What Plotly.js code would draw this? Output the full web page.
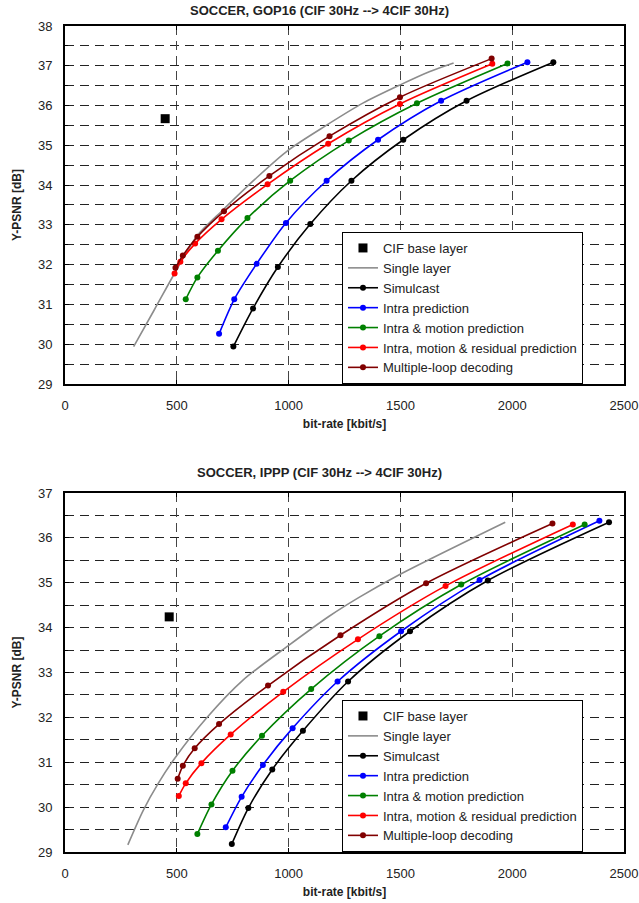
<!DOCTYPE html>
<html>
<head>
<meta charset="utf-8">
<script src="https://cdn.plot.ly/plotly-3.0.1.min.js"></script>
<style>html,body{margin:0;padding:0;background:#fff;}#chart{width:639px;height:903px;}</style>
</head>
<body>
<div id="chart"></div>
<script>
// ---------- Top chart: SOCCER, GOP16 ----------
const gopCifX = [448];
const gopCifY = [35.67];
const gopSingleX = [307, 399, 491, 590, 707, 850, 999, 1168, 1332, 1499, 1629, 1738];
const gopSingleY = [29.94, 30.86, 31.79, 32.72, 33.38, 34.15, 34.88, 35.50, 36.06, 36.52, 36.85, 37.07];
const gopSimulX = [753, 841, 952, 1097, 1281, 1513, 1796, 2184];
const gopSimulY = [29.94, 30.90, 31.94, 33.02, 34.11, 35.14, 36.12, 37.09];
const gopIntraX = [689, 757, 857, 988, 1170, 1400, 1682, 2068];
const gopIntraY = [30.26, 31.13, 32.02, 33.05, 34.11, 35.14, 36.12, 37.09];
const gopMotionX = [540, 592, 684, 816, 1007, 1269, 1574, 1979];
const gopMotionY = [31.13, 31.68, 32.35, 33.17, 34.11, 35.12, 36.06, 37.06];
const gopResidX = [490, 516, 582, 700, 906, 1177, 1498, 1911];
const gopResidY = [31.78, 32.07, 32.53, 33.14, 34.02, 35.04, 36.04, 37.05];
const gopMultiX = [494, 527, 592, 711, 914, 1183, 1498, 1908];
const gopMultiY = [31.92, 32.23, 32.70, 33.34, 34.23, 35.23, 36.21, 37.18];

// ---------- Bottom chart: SOCCER, IPPP ----------
const ipppCifX = [466];
const ipppCifY = [34.24];
const ipppSingleX = [281, 350, 417, 491, 632, 796, 999, 1183, 1317, 1499, 1969];
const ipppSingleY = [29.16, 29.93, 30.53, 31.09, 31.98, 32.83, 33.60, 34.26, 34.68, 35.19, 36.35];
const ipppSimulX = [746, 820, 927, 1064, 1266, 1543, 1891, 2433];
const ipppSimulY = [29.18, 29.98, 30.84, 31.70, 32.80, 33.92, 35.05, 36.35];
const ipppIntraX = [719, 790, 885, 1018, 1219, 1503, 1854, 2390];
const ipppIntraY = [29.55, 30.23, 30.94, 31.76, 32.80, 33.92, 35.06, 36.38];
const ipppMotionX = [592, 655, 749, 881, 1101, 1406, 1772, 2324];
const ipppMotionY = [29.40, 30.06, 30.81, 31.59, 32.63, 33.81, 34.96, 36.30];
const ipppResidX = [509, 540, 610, 741, 976, 1310, 1702, 2271];
const ipppResidY = [30.25, 30.53, 30.98, 31.62, 32.57, 33.74, 34.93, 36.30];
const ipppMultiX = [504, 527, 580, 689, 908, 1232, 1615, 2180];
const ipppMultiY = [30.63, 30.92, 31.31, 31.85, 32.71, 33.83, 34.99, 36.32];

const seriesNames = ["CIF base layer", "Single layer", "Simulcast", "Intra prediction",
  "Intra & motion prediction", "Intra, motion & residual prediction", "Multiple-loop decoding"];
const chartTitles = ["SOCCER, GOP16 (CIF 30Hz --> 4CIF 30Hz)", "SOCCER, IPPP (CIF 30Hz --> 4CIF 30Hz)"];
const xTitle = "bit-rate [kbit/s]";
const yTitle = "Y-PSNR [dB]";

const colors = ["#000000", "#8c8c8c", "#000000", "#0000ff", "#008000", "#ff0000", "#800000"];
const FONT = "Liberation Sans, Arial, sans-serif";
const GRIDDASH = "9px,6px";

function buildTraces(sets, xa, ya, leg) {
  const traces = [];
  sets.forEach((s, i) => {
    const t = {x: s[0], y: s[1], name: seriesNames[i], xaxis: xa, yaxis: ya, legend: leg};
    if (i === 0) {
      t.mode = "markers";
      t.marker = {symbol: "square", size: 9, color: colors[i]};
    } else if (i === 1) {
      t.mode = "lines";
      t.line = {color: colors[i], width: 1.6, shape: "spline", smoothing: 0.8};
    } else {
      t.mode = "lines+markers";
      t.line = {color: colors[i], width: 1.6, shape: "spline", smoothing: 0.8};
      t.marker = {symbol: "circle", size: 6, color: colors[i]};
    }
    traces.push(t);
  });
  return traces;
}

const traces = buildTraces([
  [gopCifX, gopCifY], [gopSingleX, gopSingleY], [gopSimulX, gopSimulY], [gopIntraX, gopIntraY],
  [gopMotionX, gopMotionY], [gopResidX, gopResidY], [gopMultiX, gopMultiY]
], "x", "y", "legend").concat(buildTraces([
  [ipppCifX, ipppCifY], [ipppSingleX, ipppSingleY], [ipppSimulX, ipppSimulY], [ipppIntraX, ipppIntraY],
  [ipppMotionX, ipppMotionY], [ipppResidX, ipppResidY], [ipppMultiX, ipppMultiY]
], "x2", "y2", "legend2"));

function xAxis(anchor) {
  return {
    anchor: anchor, range: [0, 2500], dtick: 500, tick0: 0,
    showline: true, linecolor: "#000", linewidth: 2, mirror: "ticks",
    ticks: "inside", ticklen: 4, tickcolor: "#000",
    showgrid: true, gridcolor: "#444", griddash: GRIDDASH, gridwidth: 1,
    zeroline: false, ticklabelstandoff: 8,
    tickfont: {family: FONT, size: 13, color: "#222"},
    title: {text: "<b>" + xTitle + "</b>", font: {family: FONT, size: 12, color: "#222"}, standoff: 8},
    automargin: false
  };
}
function yAxis(anchor, range, domain) {
  return {
    anchor: anchor, range: range, dtick: 1, domain: domain,
    showline: true, linecolor: "#000", linewidth: 2, mirror: "ticks",
    ticks: "inside", ticklen: 4, tickcolor: "#000",
    showgrid: true, gridcolor: "#222", griddash: GRIDDASH, gridwidth: 1,
    minor: {dtick: 0.5, showgrid: true, gridcolor: "#222", griddash: GRIDDASH, gridwidth: 1, ticks: "inside", ticklen: 3},
    zeroline: false, ticklabelstandoff: 8,
    tickfont: {family: FONT, size: 13, color: "#222"},
    title: {text: "<b>" + yTitle + "</b>", font: {family: FONT, size: 12, color: "#222"}, standoff: 14},
    automargin: false
  };
}

const legendStyle = {
  bgcolor: "#fff", bordercolor: "#000", borderwidth: 1,
  font: {family: FONT, size: 13, color: "#222"},
  xanchor: "left", yanchor: "top", tracegroupgap: 0, itemwidth: 30
};

const layout = {
  width: 639, height: 903,
  margin: {l: 65, r: 15, t: 26, b: 51},
  paper_bgcolor: "#fff", plot_bgcolor: "#fff",
  showlegend: true,
  xaxis: Object.assign(xAxis("y"), {domain: [0, 1]}),
  yaxis: yAxis("x", [29, 38], [0.5666, 1]),
  xaxis2: Object.assign(xAxis("y2"), {domain: [0, 1]}),
  yaxis2: yAxis("x2", [29, 37], [0, 0.4346]),
  legend: Object.assign({x: 0.4955, y: 0.7506}, legendStyle),
  legend2: Object.assign({x: 0.4955, y: 0.184}, legendStyle),
  annotations: [
    {text: "<b>" + chartTitles[0] + "</b>", xref: "paper", yref: "paper", x: 0.456, y: 1.0, yshift: 16,
     showarrow: false, xanchor: "center", yanchor: "middle", font: {family: FONT, size: 13, color: "#222"}},
    {text: "<b>" + chartTitles[1] + "</b>", xref: "paper", yref: "paper", x: 0.456, y: 0.4346, yshift: 21,
     showarrow: false, xanchor: "center", yanchor: "middle", font: {family: FONT, size: 13, color: "#222"}}
  ]
};

Plotly.newPlot("chart", traces, layout, {displayModeBar: false, staticPlot: true});
</script>
</body>
</html>
